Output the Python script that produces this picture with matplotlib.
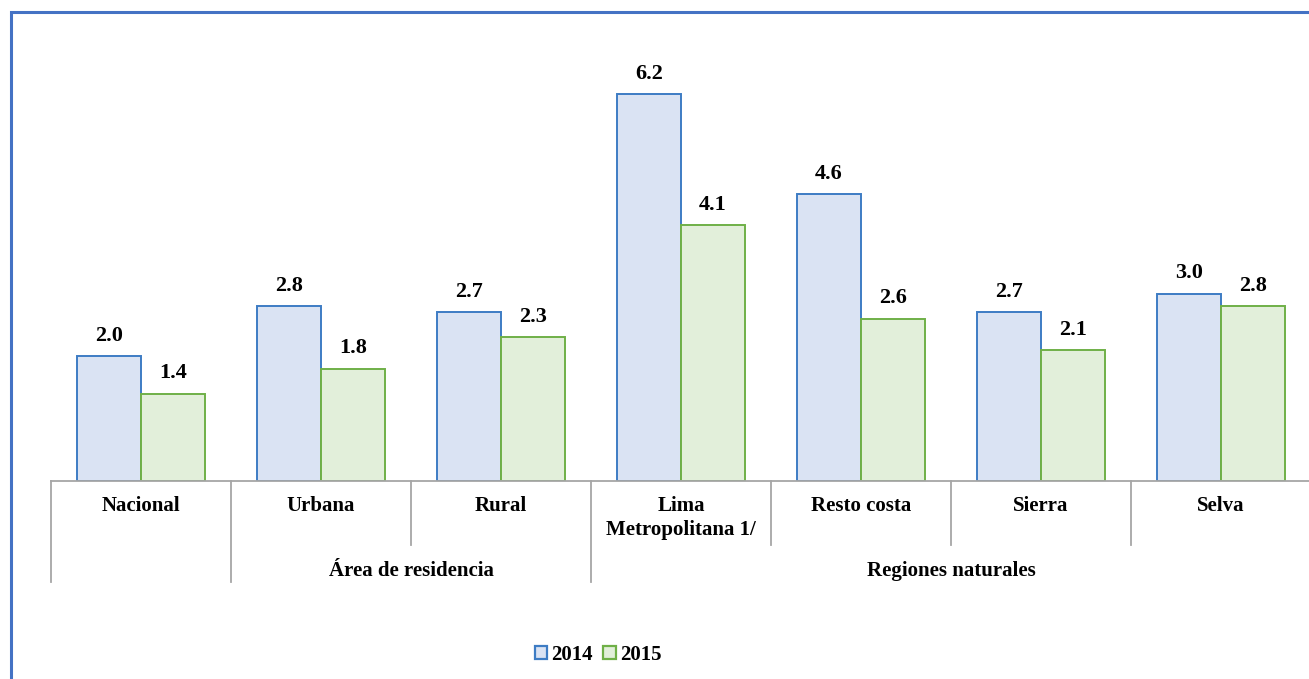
import numpy as np
import matplotlib.pyplot as plt
from matplotlib.patches import Patch, Rectangle

plt.rcParams['font.family'] = 'serif'
plt.rcParams['font.serif'] = ['Liberation Serif', 'DejaVu Serif']

# data
categorias = ['Nacional', 'Urbana', 'Rural', 'Lima\nMetropolitana 1/',
              'Resto costa', 'Sierra', 'Selva']
grupos = ['Área de residencia', 'Regiones naturales']
grupo_rangos = [(1, 2), (3, 6)]
v2014 = [2.0, 2.8, 2.7, 6.2, 4.6, 2.7, 3.0]
v2015 = [1.4, 1.8, 2.3, 4.1, 2.6, 2.1, 2.8]
series = ['2014', '2015']

W, H = 1309, 679
fig = plt.figure(figsize=(W / 100, H / 100), dpi=100, facecolor='white')
# axes in pixel terms: x 51..1311, baseline y=481, top y=41
ax = fig.add_axes([51 / W, (H - 481) / H, 1260 / W, 440 / H])

x = np.arange(len(categorias))
bw = 0.356
c14_fill, c14_edge = '#dae3f3', '#3d7cc4'
c15_fill, c15_edge = '#e2efda', '#6fb047'
ax.bar(x - bw / 2, v2014, bw, color=c14_fill, edgecolor=c14_edge, linewidth=1.4, zorder=2)
ax.bar(x + bw / 2, v2015, bw, color=c15_fill, edgecolor=c15_edge, linewidth=1.4, zorder=2)

for xi, v in zip(x - bw / 2, v2014):
    ax.annotate(f'{v:.1f}', (xi, v), xytext=(0, 11), textcoords='offset points',
                ha='center', va='baseline', fontsize=16, fontweight='bold')
for xi, v in zip(x + bw / 2, v2015):
    ax.annotate(f'{v:.1f}', (xi, v), xytext=(0, 11), textcoords='offset points',
                ha='center', va='baseline', fontsize=16, fontweight='bold')

ax.set_xlim(-0.5, 6.5)
ax.set_ylim(0, 7.05)
ax.set_xticks([])
ax.set_yticks([])
for s in ['top', 'right', 'left']:
    ax.spines[s].set_visible(False)
ax.spines['bottom'].set_color('#a6a6a6')
ax.spines['bottom'].set_linewidth(1.3)

# category separators below axis
tr = ax.get_xaxis_transform()
y_short = -(545 - 481) / 440
y_long = -(582 - 481) / 440
largas = [-0.5, 0.5, 2.5, 6.5]
cortas = [1.5, 3.5, 4.5, 5.5]
for b in largas:
    ax.plot([b, b], [0, y_long], color='#a6a6a6', lw=1.3, transform=tr, clip_on=False)
for b in cortas:
    ax.plot([b, b], [0, y_short], color='#a6a6a6', lw=1.3, transform=tr, clip_on=False)

for xi, lab in zip(x, categorias):
    ax.text(xi, -(496 - 481) / 440, lab, transform=tr, ha='center', va='top',
            fontsize=15, fontweight='bold', linespacing=1.3)
for (a, b), g in zip(grupo_rangos, grupos):
    ax.text((a + b) / 2, -(571 - 481) / 440, g, transform=tr, ha='center', va='center',
            fontsize=15, fontweight='bold')

# legend
handles = [Patch(facecolor=c14_fill, edgecolor=c14_edge, linewidth=1.6, label=series[0]),
           Patch(facecolor=c15_fill, edgecolor=c15_edge, linewidth=1.6, label=series[1])]
fig.legend(handles=handles, loc='center', bbox_to_anchor=(598 / W, 1 - 655 / H), ncol=2,
           frameon=False, handlelength=0.6, handleheight=0.6, handletextpad=0.2,
           columnspacing=0.5, prop={'size': 15, 'weight': 'bold'})

# outer border (partly outside the picture on right and bottom)
fig.patches.append(Rectangle((11 / W, -0.05), 1.1, (H - 12) / H + 0.05, transform=fig.transFigure,
                             fill=False, edgecolor='#4472c4', linewidth=2.2))

fig.savefig('out.png', dpi=100, facecolor='white')
